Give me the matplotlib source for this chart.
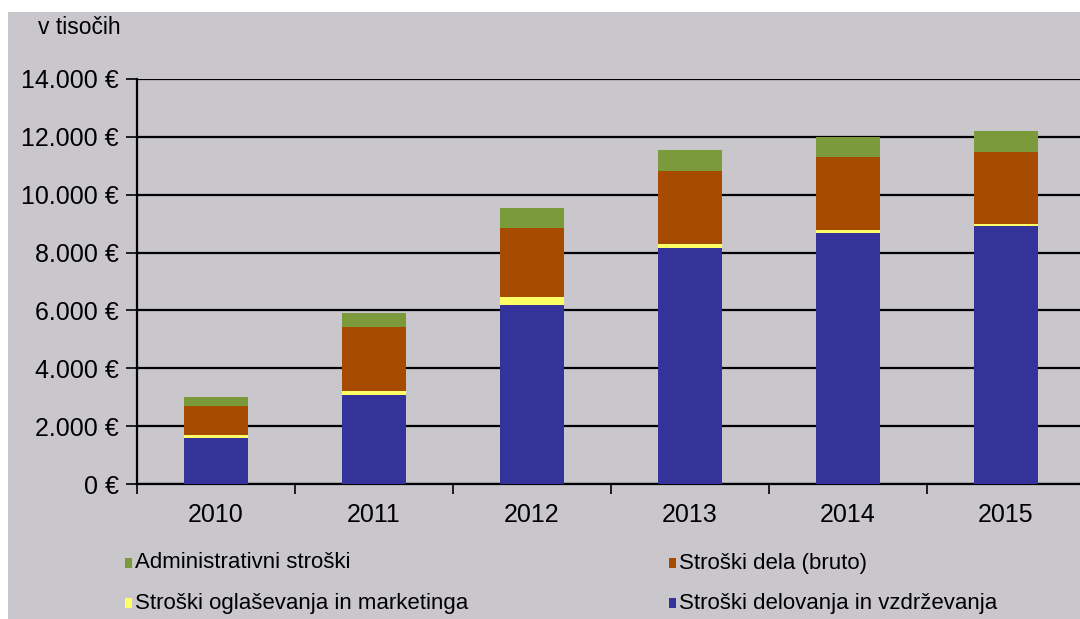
import matplotlib
matplotlib.use("Agg")
import matplotlib.pyplot as plt
from matplotlib.patches import Rectangle
import numpy as np

plt.rcParams['font.family'] = ['Liberation Sans', 'DejaVu Sans']

years = ["2010", "2011", "2012", "2013", "2014", "2015"]
delovanje = [1600, 3080, 6190, 8150, 8680, 8920]      # Stroški delovanja in vzdrževanja
oglasevanje = [80, 130, 260, 130, 90, 70]              # Stroški oglaševanja in marketinga
dela = [1000, 2220, 2410, 2550, 2540, 2500]            # Stroški dela (bruto)
administrativni = [330, 480, 670, 720, 700, 710]       # Administrativni stroški

series = [
    ("Stroški delovanja in vzdrževanja", delovanje, "#333399"),
    ("Stroški oglaševanja in marketinga", oglasevanje, "#ffff66"),
    ("Stroški dela (bruto)", dela, "#a64b00"),
    ("Administrativni stroški", administrativni, "#7b9a3c"),
]

bg = "#c9c6cc"
W, H = 1080, 619
fig = plt.figure(figsize=(W / 100, H / 100), dpi=100, facecolor="white")
fig.patches.append(Rectangle((8 / W, 0), 1, (H - 12) / H, transform=fig.transFigure,
                             facecolor=bg, edgecolor="none", zorder=-10))

ax = fig.add_axes([137 / W, (H - 484) / H, (1085 - 137) / W, (484 - 79) / H])
ax.set_facecolor(bg)
ax.patch.set_alpha(0)

x = np.arange(len(years))
bottom = np.zeros(len(years))
for name, vals, col in series:
    ax.bar(x, vals, bottom=bottom, width=0.4, color=col, edgecolor="none", zorder=3, label=name)
    bottom += np.array(vals)

ax.set_xlim(-0.5, len(years) - 0.5)
ax.set_ylim(0, 14000)
yt = np.arange(0, 14001, 2000)
ax.set_yticks(yt)
ax.set_yticklabels([("{:,}".format(v).replace(",", ".")) + " €" for v in yt], fontsize=18)
ax.yaxis.grid(True, color="black", linewidth=1.6, zorder=1)
ax.set_axisbelow(True)

ax.set_xticks(x)
ax.set_xticklabels(years, fontsize=18)
ax.set_xticks(np.arange(-0.5, len(years)), minor=True)
ax.tick_params(axis="x", which="major", length=0, pad=14)
ax.tick_params(axis="x", which="minor", length=7, width=1.2, direction="out", color="black")
ax.tick_params(axis="y", length=8, width=1.2, color="black", pad=5)

for s in ["top", "right"]:
    ax.spines[s].set_visible(False)
ax.spines["left"].set_linewidth(1.6)
ax.spines["bottom"].set_linewidth(1.6)

fig.text(38 / W, (H - 28) / H, "v tisočih", fontsize=16.5, va="center", ha="left")

# legend drawn as two columns of squares and labels
legend_items = [
    ("Administrativni stroški", "#7b9a3c", 125, 563),
    ("Stroški dela (bruto)", "#a64b00", 669, 563),
    ("Stroški oglaševanja in marketinga", "#ffff66", 125, 603),
    ("Stroški delovanja in vzdrževanja", "#333399", 669, 603),
]
for label, col, px, py in legend_items:
    fig.patches.append(Rectangle((px / W, (H - py - 5) / H), 7 / W, 10 / H,
                                 transform=fig.transFigure, facecolor=col, edgecolor="none"))
    fig.text((px + 10) / W, (H - py) / H, label, fontsize=16, va="center", ha="left")

fig.savefig("out.png", dpi=100, facecolor=fig.get_facecolor())
